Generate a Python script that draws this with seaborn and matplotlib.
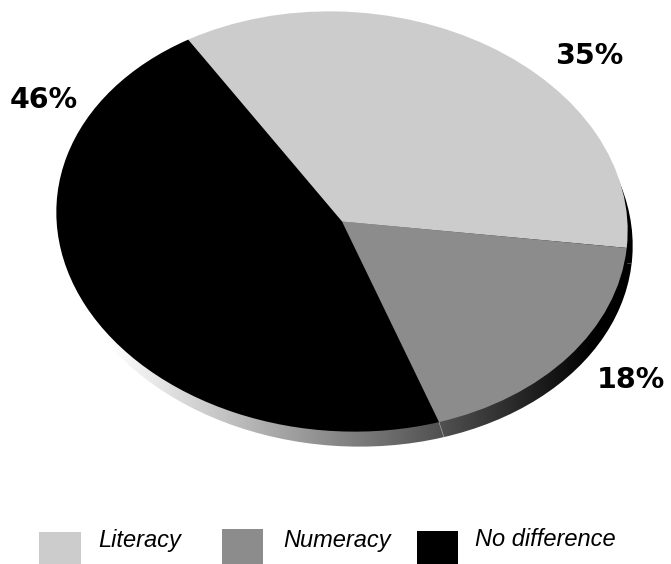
import numpy as np
import matplotlib
matplotlib.use("Agg")
import matplotlib.pyplot as plt
from matplotlib.patches import Circle, Rectangle
from matplotlib.transforms import Affine2D
import seaborn as sns

categories = ["Literacy", "Numeracy", "No difference"]
shares = [35, 18, 46]
share_labels = ["35%", "18%", "46%"]
colors = ["#cccccc", "#8c8c8c", "#000000"]

sns.set_theme(style="white")
palette = sns.color_palette(colors)

W, H = 671, 564
fig = plt.figure(figsize=(W / 100, H / 100), dpi=100, facecolor="white")

# One full-figure axes measured in pixels, y pointing up
ax = fig.add_axes([0, 0, 1, 1])
ax.axis("off")

# The pie is squashed and tilted a little by an affine map
cx, cy = 342, H - 221.5
rx, ry, tilt = 286, 209.7, -4
shape = Affine2D().scale(rx, ry).rotate_deg(tilt)
top_map = shape + Affine2D().translate(cx, cy)
dx, dy = 5, -15
edge_map = shape + Affine2D().translate(cx + dx, cy + dy)

start = 125.5
wedges, _ = ax.pie(shares, colors=palette, startangle=start, counterclock=False,
                   radius=1, center=(0, 0), wedgeprops=dict(linewidth=0))
ax.set_aspect("auto")
ax.set_xlim(0, W)
ax.set_ylim(0, H)
for w in wedges:
    w.set_transform(top_map + ax.transData)
    w.set_zorder(3)
    w.set_clip_on(False)

# Raised edge under the pie, shaded from white on the left to black on the right
edge = Circle((0, 0), 1, facecolor="none", edgecolor="none",
              transform=edge_map + ax.transData)
ax.add_patch(edge)
ramp = np.linspace(1, 0, 256).reshape(1, -1)
img = ax.imshow(ramp, extent=[110, 595, 0, H], cmap="gray", vmin=0, vmax=1,
                aspect="auto", zorder=1)
img.set_clip_path(edge)
dark = ax.imshow([[0.0]], extent=[595, W, 0, H], cmap="gray", vmin=0, vmax=1,
                 aspect="auto", zorder=1)
dark.set_clip_path(edge)
ax.set_xlim(0, W)
ax.set_ylim(0, H)

# Thin seams on the raised edge where slices meet
seam_angles = np.radians(start - np.cumsum(shares) / sum(shares) * 360)
right_pt = top_map.transform((np.cos(seam_angles[0]), np.sin(seam_angles[0])))
low_pt = top_map.transform((np.cos(seam_angles[1]), np.sin(seam_angles[1])))
low_seam, = ax.plot([low_pt[0], low_pt[0] + dx], [low_pt[1], low_pt[1] + dy],
                    color="#a8a8a8", lw=0.5, zorder=2)
right_seam, = ax.plot([right_pt[0], right_pt[0] + 8], [right_pt[1] + dy, right_pt[1] + dy],
                      color="#666666", lw=0.5, zorder=2)
low_seam.set_clip_path(edge)
right_seam.set_clip_path(edge)

# Percentage labels
label_pos = [(589, 56), (631, 380), (44, 100)]
for text, (x, y) in zip(share_labels, label_pos):
    ax.text(x, H - y, text, fontsize=20.5, fontweight="bold", color="black",
            family="DejaVu Sans", ha="center", va="center", zorder=4)

# Legend
swatches = [(39, 532, 42), (222, 529, 41), (417, 531, 41)]
text_x = [98, 283, 475]
text_y = [541, 541, 539]
for (x, y, w), tx, ty, c, name in zip(swatches, text_x, text_y, palette, categories):
    ax.add_patch(Rectangle((x, 0), w, H - y, facecolor=c, edgecolor="none"))
    ax.text(tx, H - ty, name, fontsize=17, style="italic", color="black",
            family="Liberation Sans", ha="left", va="center")

fig.savefig("out.png", dpi=100, facecolor="white")
